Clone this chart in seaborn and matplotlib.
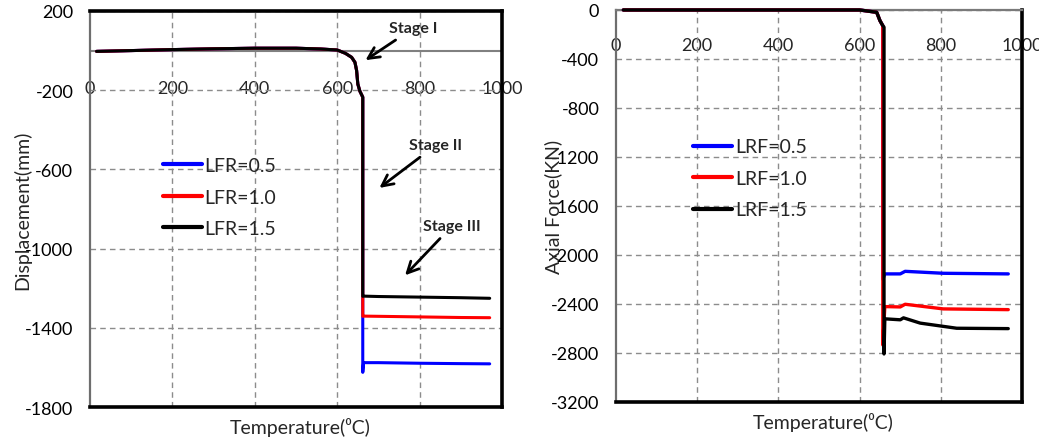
import pandas as pd
import matplotlib.pyplot as plt
import seaborn as sns

# Left panel: displacement (shared heating branch, then one tail per LFR)
rise_temp = [16, 100, 200, 300, 400, 500, 560, 600, 620, 635, 643, 647, 650, 655, 662]
rise_disp = [-4, 0, 5, 9, 12, 12, 8, 3, -14, -34, -59, -100, -169, -205, -235]

disp_tail_temp = {
    "LFR=0.5": [662, 662, 664, 700, 800, 900, 970],
    "LFR=1.0": [662, 662, 664, 700, 800, 900, 970],
    "LFR=1.5": [662, 662, 664, 700, 800, 900, 970],
}
disp_tail_val = {
    "LFR=0.5": [-235, -1625, -1576, -1576, -1579, -1581, -1582],
    "LFR=1.0": [-235, -1342, -1341, -1342, -1345, -1348, -1349],
    "LFR=1.5": [-235, -1241, -1240, -1242, -1245, -1248, -1251],
}

# Right panel: axial force
rise_temp_r = [18, 200, 400, 600, 642, 650, 657]
rise_force = [0, 0, 0, 0, -19, -87, -128]

force_tail_temp = {
    "LRF=0.5": [657, 657, 662, 700, 712, 806, 966],
    "LRF=1.0": [657, 657, 662, 700, 712, 806, 966],
    "LRF=1.5": [660, 660, 662, 700, 708, 749, 839, 966],
}
force_tail_val = {
    "LRF=0.5": [-140, -2200, -2156, -2156, -2135, -2151, -2156],
    "LRF=1.0": [-140, -2737, -2423, -2426, -2404, -2442, -2448],
    "LRF=1.5": [-140, -2810, -2523, -2531, -2515, -2558, -2600, -2603],
}

colors = ["#0000ff", "#ff0000", "#000000"]
x_ticks = [0, 200, 400, 600, 800, 1000]
disp_ticks = [200, -200, -600, -1000, -1400, -1800]
force_ticks = [0, -400, -800, -1200, -1600, -2000, -2400, -2800, -3200]


def build(rise_t, rise_v, tail_t, tail_v):
    rows = []
    for name in tail_t:
        temps = rise_t + tail_t[name]
        vals = rise_v + tail_v[name]
        for i, (t, v) in enumerate(zip(temps, vals)):
            rows.append({"series": name, "order": i, "T": t, "V": v})
    return pd.DataFrame(rows)


df_disp = build(rise_temp, rise_disp, disp_tail_temp, disp_tail_val)
df_force = build(rise_temp_r, rise_force, force_tail_temp, force_tail_val)

sns.set_theme(style="white")
plt.rcParams["font.family"] = ["Lato", "DejaVu Sans"]
plt.rcParams["axes.unicode_minus"] = False

fig = plt.figure(figsize=(10.39, 4.39), dpi=100)
ax1 = fig.add_axes([0.0866, 0.0706, 0.3966, 0.9021])
ax2 = fig.add_axes([0.5929, 0.0827, 0.3908, 0.8923])


def style_axes(ax, yticks, ylim, gray_top, sec_loc, ylabel, leg_anchor):
    ax.set_xlim(0, 1000)
    ax.set_ylim(*ylim)
    ax.set_xticks([200, 400, 600, 800])
    ax.set_yticks(yticks)
    ax.tick_params(axis="x", length=0, labelbottom=False)
    ax.tick_params(axis="y", length=0, pad=12, labelsize=13, labelcolor="black")
    ax.grid(True, color="#8c8c8c", linestyle=(0, (4, 3)), linewidth=1.0)
    for side in ["right", "bottom"]:
        ax.spines[side].set_color("black")
        ax.spines[side].set_linewidth(2.6)
    ax.spines["left"].set_color("#6e6e6e")
    ax.spines["left"].set_linewidth(1.6)
    ax.spines["top"].set_color("#7a7a7a" if gray_top else "black")
    ax.spines["top"].set_linewidth(1.6 if gray_top else 2.6)
    for s in ax.spines.values():
        s.set_visible(True)
        s.set_zorder(5)

    sec = ax.secondary_xaxis(sec_loc)
    sec.set_xticks(x_ticks)
    sec.tick_params(length=0, pad=0, labelsize=13)
    for s in sec.spines.values():
        s.set_visible(False)

    ax.set_xlabel("Temperature(⁰C)", fontsize=14, va="center")
    ax.xaxis.set_label_coords(0.51, -0.05)
    ax.set_ylabel(ylabel, fontsize=14, va="center")
    ax.yaxis.set_label_coords(leg_anchor[2], 0.5)

    leg = ax.legend(loc="center left", bbox_to_anchor=(leg_anchor[0], leg_anchor[1]),
                    frameon=False, fontsize=14, handlelength=2.0, handletextpad=0.15,
                    labelspacing=0.75, borderpad=0, borderaxespad=0)
    for line in leg.get_lines():
        line.set_linewidth(3)


# left panel
ax1.axhline(0, color="#808080", linewidth=1.5, zorder=1)
sns.lineplot(data=df_disp, x="T", y="V", hue="series", palette=colors, sort=False,
             estimator=None, linewidth=2.2, ax=ax1, zorder=3)
style_axes(ax1, disp_ticks, (-1800, 200), False, 0.785, "Displacement(mm)", (0.177, 0.530, -0.165))

arrow = dict(arrowstyle="->", color="black", lw=2.0, mutation_scale=20)
ax1.annotate("Stage I", xy=(663, -56), xytext=(726, 113), fontsize=11.5, fontweight="bold",
             va="center", ha="left", arrowprops=arrow)
ax1.annotate("Stage II", xy=(697, -702), xytext=(775, -478), fontsize=11.5, fontweight="bold",
             va="center", ha="left", arrowprops=arrow)
ax1.annotate("Stage III", xy=(760, -1145), xytext=(808, -887), fontsize=11.5, fontweight="bold",
             va="center", ha="left", arrowprops=arrow)

# right panel (lines sit over the gray top spine, as in the original)
sns.lineplot(data=df_force, x="T", y="V", hue="series", palette=colors, sort=False,
             estimator=None, linewidth=2.4, ax=ax2, zorder=6, clip_on=False)
style_axes(ax2, force_ticks, (-3200, 0), True, 0.89, "Axial Force(KN)", (0.190, 0.570, -0.155))

fig.savefig("out.png", dpi=100, facecolor="white")
